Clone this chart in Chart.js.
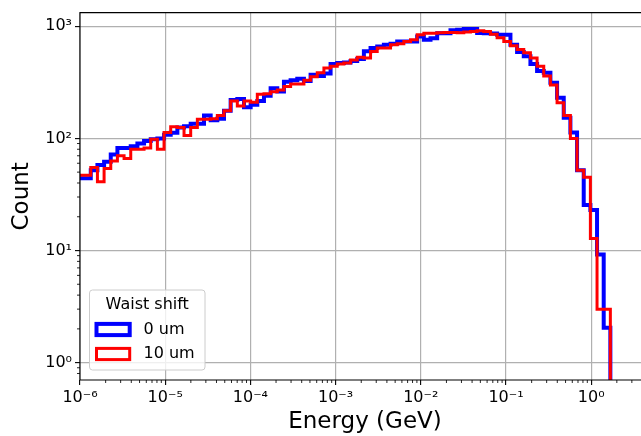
<!DOCTYPE html>
<html>
<head>
<meta charset="utf-8">
<script src="https://cdn.jsdelivr.net/npm/chart.js@4.4.0/dist/chart.umd.min.js"></script>
<style>
  html, body { margin: 0; padding: 0; overflow: hidden; background: #fff; }
  #wrap { width: 660px; height: 436px; }
</style>
</head>
<body>
<div id="wrap"><canvas id="chart" width="660" height="436"></canvas></div>
<script>
// histogram: 80 log-spaced bins, edges given in log10(GeV)
const binLogMin = -6.03;
const binLogMax = 0.225;
const binCount = 80;

// counts per bin
const counts0um = [
  44, 44, 52, 58, 62, 72, 82, 82, 85, 90,
  95, 98, 100, 108, 112, 125, 128, 135, 135, 160,
  145, 150, 176, 220, 225, 190, 200, 215, 240, 280,
  262, 320, 330, 340, 325, 370, 360, 380, 460, 470,
  475, 490, 510, 600, 640, 660, 683, 700, 731, 731,
  731, 810, 760, 780, 867, 867, 920, 930, 945, 945,
  870, 867, 860, 840, 840, 683, 590, 540, 460, 400,
  384, 314, 230, 153, 113, 52, 25.5, 23, 9.2, 2.05
];
const counts10um = [
  47, 47, 55, 41, 54, 63, 70, 66, 80, 80,
  82, 98, 80, 113, 127, 125, 106, 125, 148, 148,
  150, 160, 176, 215, 194, 215, 210, 247, 250, 260,
  270, 290, 305, 305, 330, 355, 385, 425, 440, 460,
  470, 500, 530, 521, 597, 640, 640, 683, 700, 731,
  760, 838, 867, 867, 875, 880, 880, 875, 890, 897,
  910, 900, 850, 790, 730, 670, 620, 580, 520, 440,
  360, 300, 208, 160, 100, 52, 45, 12.8, 3, 3
];

const seriesLabels = ['0 um', '10 um'];
const legendTitle = 'Waist shift';

const xTickExps = [-6, -5, -4, -3, -2, -1, 0];
const yTickExps = [0, 1, 2, 3];
const xRange = [1e-6, 4.9];
const yRange = [0.703, 1324];
const histFloor = 1e-3; // step outline drops to zero (off the log axis)

const binEdges = [];
for (let i = 0; i <= binCount; i++) {
  binEdges.push(10 ** (binLogMin + (binLogMax - binLogMin) * i / binCount));
}

function stepPoints(counts) {
  const pts = [{ x: binEdges[0], y: histFloor }];
  counts.forEach((c, i) => pts.push({ x: binEdges[i], y: c }));
  pts.push({ x: binEdges[binCount], y: counts[binCount - 1] });
  pts.push({ x: binEdges[binCount], y: histFloor });
  return pts;
}

const sup = { '-': '\u207B', '0': '\u2070', '1': '\u00B9', '2': '\u00B2', '3': '\u00B3',
  '4': '\u2074', '5': '\u2075', '6': '\u2076', '7': '\u2077', '8': '\u2078', '9': '\u2079' };
function powLabel(v) {
  const e = Math.round(Math.log10(v));
  return '10' + String(e).split('').map(c => sup[c]).join('');
}

const FONT = 'DejaVu Sans';

// spines, minor ticks and the in-axes legend (matplotlib style)
const mplExtras = {
  id: 'mplExtras',
  afterDatasetsDraw(chart) {
    const { ctx, chartArea: a, scales: { x, y } } = chart;
    ctx.save();
    ctx.strokeStyle = '#000';
    ctx.lineWidth = 0.85;
    for (let e = -7; e <= 1; e++) {
      for (let k = 2; k <= 9; k++) {
        const v = k * 10 ** e;
        if (v > xRange[0] && v < xRange[1]) {
          const px = x.getPixelForValue(v);
          ctx.beginPath(); ctx.moveTo(px, a.bottom); ctx.lineTo(px, a.bottom + 3); ctx.stroke();
        }
        if (v > yRange[0] && v < yRange[1]) {
          const py = y.getPixelForValue(v);
          ctx.beginPath(); ctx.moveTo(a.left, py); ctx.lineTo(a.left - 3, py); ctx.stroke();
        }
      }
    }
    ctx.lineWidth = 1.1;
    ctx.beginPath();
    ctx.moveTo(a.right, a.top); ctx.lineTo(a.left, a.top);
    ctx.lineTo(a.left, a.bottom); ctx.lineTo(a.right, a.bottom);
    ctx.stroke();
    ctx.restore();
  },
  afterDraw(chart) {
    const { ctx, chartArea: a } = chart;
    const bx = a.left + 9.5, by = a.bottom - 90, bw = 115.5, bh = 80;
    ctx.save();
    ctx.beginPath();
    ctx.roundRect(bx, by, bw, bh, 3);
    ctx.fillStyle = 'rgba(255,255,255,0.8)';
    ctx.fill();
    ctx.strokeStyle = '#cccccc';
    ctx.lineWidth = 1;
    ctx.stroke();
    ctx.fillStyle = '#000';
    ctx.font = '16px "' + FONT + '"';
    ctx.textBaseline = 'middle';
    ctx.textAlign = 'center';
    ctx.fillText(legendTitle, bx + bw / 2, by + 15);
    ctx.textAlign = 'left';
    chart.data.datasets.forEach((ds, i) => {
      const cy = by + 39.5 + i * 24.5;
      ctx.strokeStyle = ds.borderColor;
      ctx.lineWidth = ds.borderWidth;
      ctx.strokeRect(bx + 7, cy - 5.6, 33.2, 11.2);
      ctx.fillText(ds.label, bx + 54, cy);
    });
    ctx.restore();
  }
};

new Chart(document.getElementById('chart'), {
  type: 'line',
  data: {
    datasets: [
      {
        label: seriesLabels[0],
        data: stepPoints(counts0um),
        borderColor: '#0000ff',
        borderWidth: 4,
        stepped: true,
        pointRadius: 0,
        fill: false,
        order: 1,
        clip: 0
      },
      {
        label: seriesLabels[1],
        data: stepPoints(counts10um),
        borderColor: '#ff0000',
        borderWidth: 3,
        stepped: true,
        pointRadius: 0,
        fill: false,
        order: 0,
        clip: 0
      }
    ]
  },
  options: {
    responsive: false,
    animation: false,
    events: [],
    layout: { padding: { top: 9.5, right: 10, left: 0, bottom: 0 } },
    plugins: { legend: { display: false }, tooltip: { enabled: false } },
    scales: {
      x: {
        type: 'logarithmic',
        min: xRange[0],
        max: xRange[1],
        afterBuildTicks: axis => { axis.ticks = xTickExps.map(e => ({ value: 10 ** e })); },
        afterFit: axis => { axis.height = 56; },
        ticks: {
          callback: v => powLabel(v),
          font: { family: FONT, size: 16 },
          color: '#000',
          padding: 3,
          maxRotation: 0,
          autoSkip: false
        },
        grid: { color: '#b0b0b0', lineWidth: 1.2, tickColor: '#000', tickLength: 5, tickWidth: 1.1 },
        border: { display: false },
        title: { display: true, text: 'Energy (GeV)', font: { family: FONT, size: 23 }, color: '#000', padding: 0 }
      },
      y: {
        type: 'logarithmic',
        min: yRange[0],
        max: yRange[1],
        afterBuildTicks: axis => { axis.ticks = yTickExps.map(e => ({ value: 10 ** e })); },
        afterFit: axis => { axis.width = 80; },
        ticks: {
          callback: v => powLabel(v),
          font: { family: FONT, size: 16 },
          color: '#000',
          padding: 3,
          autoSkip: false
        },
        grid: { color: '#b0b0b0', lineWidth: 1.2, tickColor: '#000', tickLength: 5, tickWidth: 1.1 },
        border: { display: false },
        title: { display: true, text: 'Count', font: { family: FONT, size: 23 }, color: '#000', padding: { top: 8 } }
      }
    }
  },
  plugins: [mplExtras]
});
</script>
</body>
</html>
